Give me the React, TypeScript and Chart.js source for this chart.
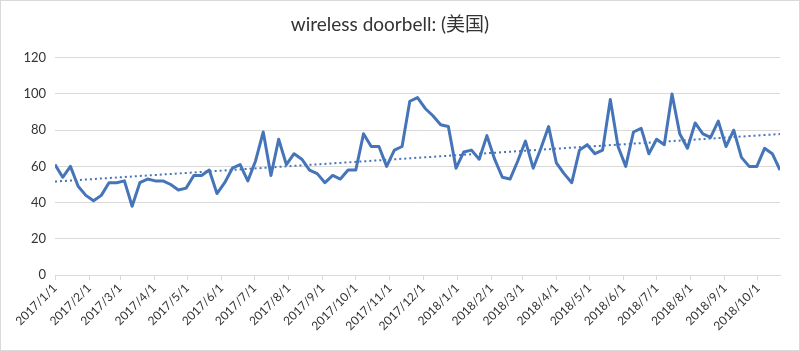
import React, { useEffect, useRef } from "react";
import { Chart, registerables } from "chart.js";

Chart.register(...registerables);

const chartTitle = "wireless doorbell: (美国)";
const startDate = "2017/1/1";
const weeklyValues = [
  61, 54, 60, 49, 44, 41, 44, 51, 51, 52,
  38, 51, 53, 52, 52, 50, 47, 48, 55, 55,
  58, 45, 51, 59, 61, 52, 63, 79, 55, 75,
  61, 67, 64, 58, 56, 51, 55, 53, 58, 58,
  78, 71, 71, 60, 69, 71, 96, 98, 92, 88,
  83, 82, 59, 68, 69, 64, 77, 64, 54, 53,
  63, 74, 59, 70, 82, 62, 56, 51, 69, 72,
  67, 69, 97, 71, 60, 79, 81, 67, 75, 72,
  100, 78, 70, 84, 78, 76, 85, 71, 80, 65,
  60, 60, 70, 67, 58,
];
const monthTicks = [
  "2017/1/1", "2017/2/1", "2017/3/1", "2017/4/1", "2017/5/1", "2017/6/1",
  "2017/7/1", "2017/8/1", "2017/9/1", "2017/10/1", "2017/11/1", "2017/12/1",
  "2018/1/1", "2018/2/1", "2018/3/1", "2018/4/1", "2018/5/1", "2018/6/1",
  "2018/7/1", "2018/8/1", "2018/9/1", "2018/10/1",
];
const yTicks = [0, 20, 40, 60, 80, 100, 120];

function toUTC(label: string) {
  const [y, m, d] = label.split("/").map(Number);
  return Date.UTC(y, m - 1, d);
}
function dayOffset(label: string) {
  return Math.round((toUTC(label) - toUTC(startDate)) / 86400000);
}

export default function App() {
  const ref = useRef<HTMLCanvasElement | null>(null);
  useEffect(() => {
    if (!ref.current) return;
    const pts = weeklyValues.map((v, i) => ({ x: i * 7, y: v }));
    const n = pts.length;
    let sx = 0, sy = 0, sxx = 0, sxy = 0;
    pts.forEach((p) => { sx += p.x; sy += p.y; sxx += p.x * p.x; sxy += p.x * p.y; });
    const slope = (n * sxy - sx * sy) / (n * sxx - sx * sx);
    const icpt = (sy - slope * sx) / n;
    const xMax = (n - 1) * 7;
    const trend = [
      { x: 0, y: icpt },
      { x: xMax, y: icpt + slope * xMax },
    ];
    const font = "Lato, 'Noto Sans CJK SC', sans-serif";
    const chart = new Chart(ref.current, {
      type: "line",
      data: {
        datasets: [
          {
            data: pts,
            borderColor: "#4575b8",
            borderWidth: 3,
            pointRadius: 0,
            tension: 0,
            borderJoinStyle: "round",
          },
          {
            data: trend,
            borderColor: "#4575b8",
            borderWidth: 2,
            borderDash: [2, 3],
            pointRadius: 0,
          },
        ],
      },
      options: {
        animation: false,
        responsive: false,
        devicePixelRatio: 1,
        layout: { padding: { left: 0, right: 20, top: 0, bottom: 0 } },
        plugins: {
          legend: { display: false },
          tooltip: { enabled: false },
          title: {
            display: true,
            text: chartTitle,
            color: "#333333",
            font: { family: font, size: 19, weight: "normal" },
            padding: { top: 13, bottom: 22 },
          },
        },
        scales: {
          x: {
            type: "linear",
            min: 0,
            max: xMax,
            afterBuildTicks: (scale: any) => {
              scale.ticks = monthTicks.map((l) => ({ value: dayOffset(l) }));
            },
            afterFit: (scale: any) => {
              scale.height = 76;
            },
            ticks: {
              autoSkip: false,
              maxRotation: 45,
              minRotation: 45,
              padding: 1,
              color: "#333333",
              font: { family: font, size: 12 },
              callback: (_v: any, i: number) => monthTicks[i],
            },
            grid: {
              drawOnChartArea: false,
              drawTicks: true,
              tickLength: 5,
              color: "#d9d9d9",
            },
            border: { color: "#d9d9d9" },
          },
          y: {
            min: 0,
            max: 120,
            afterBuildTicks: (scale: any) => {
              scale.ticks = yTicks.map((v) => ({ value: v }));
            },
            afterFit: (scale: any) => {
              scale.width = 55;
            },
            ticks: {
              padding: 9,
              color: "#333333",
              font: { family: font, size: 13 },
            },
            grid: { color: "#d9d9d9", drawTicks: false },
            border: { display: false },
          },
        },
      },
    } as any);
    return () => chart.destroy();
  }, []);
  return (
    <div style={{ position: "fixed", left: 0, top: 0, width: 800, height: 351, background: "#fff" }}>
      <canvas ref={ref} width={800} height={351} style={{ display: "block", width: 800, height: 351 }} />
      <div
        style={{
          position: "absolute",
          left: 0,
          top: 0,
          width: 800,
          height: 351,
          boxSizing: "border-box",
          border: "1px solid #d9d9d9",
          pointerEvents: "none",
        }}
      />
    </div>
  );
}
